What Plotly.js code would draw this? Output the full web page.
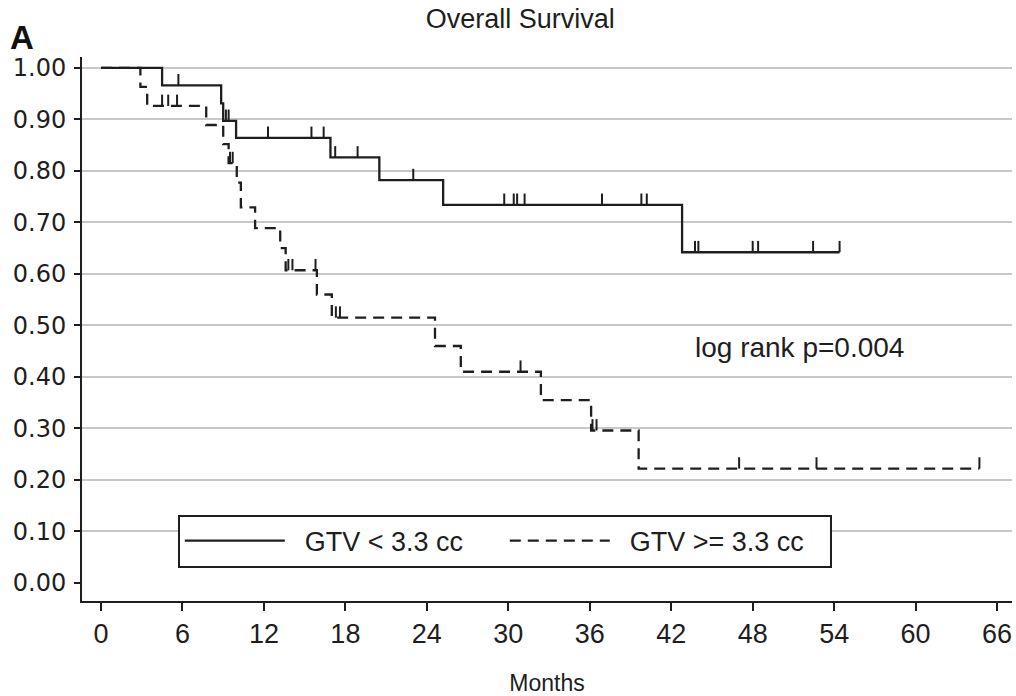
<!DOCTYPE html>
<html>
<head>
<meta charset="utf-8">
<script src="https://cdn.plot.ly/plotly-3.0.1.min.js"></script>
<style>html,body{margin:0;padding:0;background:#fff;}#chart{width:1016px;height:696px;}</style>
</head>
<body>
<div id="chart"></div>
<script>
// Kaplan-Meier step data (months, survival proportion)
const smallTimes = [0, 4.5, 8.85, 9.0, 9.95, 16.9, 20.5, 25.2, 42.8, 54.4];
const smallSurv  = [1.0, 0.966, 0.931, 0.897, 0.864, 0.826, 0.782, 0.734, 0.642, 0.642];
const smallCensor = [5.7, 9.2, 9.4, 12.3, 15.5, 16.4, 17.25, 18.9, 23.0, 29.7, 30.4, 30.65, 31.2, 36.9, 39.8, 40.2, 43.75, 44.0, 48.0, 48.4, 52.45, 54.4];

const largeTimes = [0, 2.9, 3.4, 7.75, 9.0, 9.4, 10.0, 10.3, 11.35, 13.2, 13.6, 15.9, 17.0, 24.6, 26.5, 32.4, 36.1, 39.6, 64.7];
const largeSurv  = [1.0, 0.963, 0.926, 0.889, 0.852, 0.815, 0.777, 0.729, 0.689, 0.650, 0.607, 0.560, 0.515, 0.460, 0.410, 0.355, 0.296, 0.222, 0.222];
const largeCensor = [4.5, 4.95, 5.6, 9.5, 9.7, 13.8, 14.1, 15.8, 17.3, 17.6, 30.9, 36.2, 36.5, 47.0, 52.7, 64.7];

const seriesNames = ['GTV < 3.3 cc', 'GTV >= 3.3 cc'];
const xTickVals = [0, 6, 12, 18, 24, 30, 36, 42, 48, 54, 60, 66];
const yTickVals = [0, 0.1, 0.2, 0.3, 0.4, 0.5, 0.6, 0.7, 0.8, 0.9, 1.0];
const yTickText = ['0.00','0.10','0.20','0.30','0.40','0.50','0.60','0.70','0.80','0.90','1.00'];

function survAt(times, surv, t) {
  let v = surv[0];
  for (let i = 0; i < times.length; i++) { if (times[i] <= t) v = surv[i]; }
  return v;
}

const lineColor = '#1e1e1e';
const tickLen = 0.022;

function censorTrace(times, surv, cens) {
  return {
    x: cens,
    y: cens.map(t => survAt(times, surv, t)),
    type: 'scatter', mode: 'markers', showlegend: false, hoverinfo: 'skip',
    marker: {size: 1, color: lineColor, opacity: 0.01},
    error_y: {type: 'data', symmetric: false, array: cens.map(() => tickLen), arrayminus: cens.map(() => 0),
      width: 0, thickness: 2, color: lineColor}
  };
}

const pad = '\u00a0\u00a0';
const data = [
  // gridline helper axis
  {x: [0], y: [0], xaxis: 'x', yaxis: 'y2', type: 'scatter', mode: 'markers', marker: {opacity: 0}, showlegend: false, hoverinfo: 'skip'},
  {x: smallTimes, y: smallSurv, type: 'scatter', mode: 'lines', name: pad + seriesNames[0],
   line: {shape: 'hv', color: lineColor, width: 2.3}},
  {x: largeTimes, y: largeSurv, type: 'scatter', mode: 'lines', name: pad + seriesNames[1],
   line: {shape: 'hv', color: lineColor, width: 2.3, dash: '11px,7px'}},
  censorTrace(smallTimes, smallSurv, smallCensor),
  censorTrace(largeTimes, largeSurv, largeCensor)
];

const yRange = [-0.035, 1.021];
const layout = {
  width: 1016, height: 696,
  paper_bgcolor: '#fff', plot_bgcolor: 'rgba(0,0,0,0)',
  margin: {l: 82, r: 4, t: 57, b: 95},
  font: {family: 'Liberation Sans, Arial, sans-serif', color: '#1e1e1e'},
  title: {text: 'Overall Survival', x: 0.512, xanchor: 'center', y: 0.974, yanchor: 'middle',
    font: {size: 27, family: 'Liberation Sans, Arial, sans-serif', color: '#1e1e1e'}},
  xaxis: {
    range: [-1.4, 67.1], tickvals: xTickVals, ticktext: xTickVals.map(String),
    showgrid: false, zeroline: false, showline: true, linecolor: '#1e1e1e', linewidth: 2,
    ticks: 'outside', ticklen: 8, tickwidth: 2, tickcolor: '#1e1e1e',
    tickfont: {size: 27, family: 'Liberation Sans, Arial, sans-serif', color: '#1e1e1e'},
    ticklabelstandoff: 0,
    title: {text: 'Months', standoff: 32, font: {size: 23, family: 'Liberation Sans, Arial, sans-serif', color: '#1e1e1e'}}
  },
  yaxis: {
    range: yRange, tickvals: yTickVals, ticktext: yTickText,
    showgrid: false, zeroline: false, showline: true, linecolor: '#1e1e1e', linewidth: 2,
    ticks: 'outside', ticklen: 6, tickwidth: 2, tickcolor: '#1e1e1e',
    tickfont: {size: 24, family: 'DejaVu Sans, sans-serif', color: '#1e1e1e'},
    ticklabelstandoff: 3
  },
  yaxis2: {
    overlaying: 'y', range: yRange, tickvals: yTickVals.slice(1), showticklabels: false,
    showgrid: true, gridcolor: '#c8c8c8', gridwidth: 2, zeroline: false, showline: false, ticks: '',
    layer: 'below traces'
  },
  showlegend: true,
  legend: {
    orientation: 'h', x: 0.103, xanchor: 'left', y: 0.159, yanchor: 'top',
    bgcolor: '#fff', bordercolor: '#1e1e1e', borderwidth: 2,
    font: {size: 27, family: 'Liberation Sans, Arial, sans-serif', color: '#1e1e1e'},
    itemwidth: 100, entrywidth: 210, traceorder: 'normal'
  },
  annotations: [
    {text: 'log rank p=0.004', xref: 'x', yref: 'y', x: 43.6, y: 0.458, xanchor: 'left', yanchor: 'middle',
     showarrow: false, font: {size: 28, family: 'Liberation Sans, Arial, sans-serif', color: '#1e1e1e'}},
    {text: '<b>A</b>', xref: 'paper', yref: 'paper', x: -0.065, y: 1.035, xanchor: 'center', yanchor: 'middle',
     showarrow: false, font: {size: 33, family: 'Liberation Sans, Arial, sans-serif', color: '#111'}}
  ]
};

Plotly.newPlot('chart', data, layout, {displayModeBar: false, staticPlot: true});
</script>
</body>
</html>
